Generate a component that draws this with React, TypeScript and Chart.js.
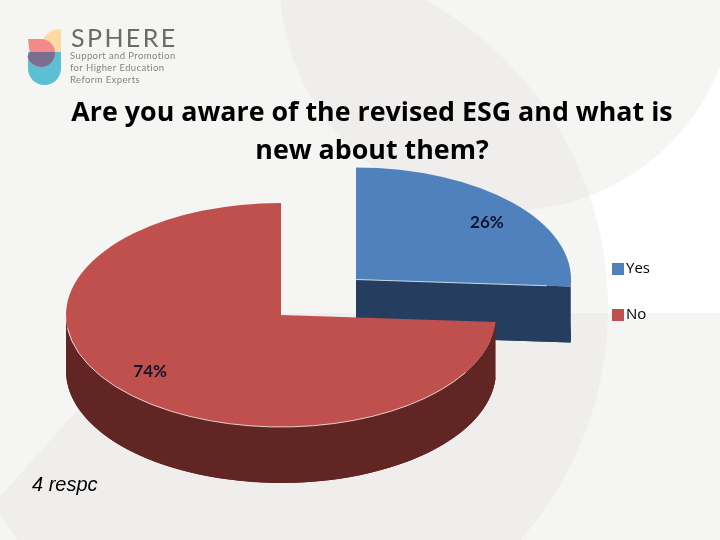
import React, { useEffect, useRef } from "react";
import { Chart, registerables } from "chart.js";

Chart.register(...registerables);

const categories = ["Yes", "No"];
const shares = [26, 74];
const topColors = ["#4f81bd", "#c0504d"];
const wallColors = ["#253e5f", "#612523"];
const titleLines = ["Are you aware of the revised ESG and what is", "new about them?"];
const footnote = "4 respc";
const logoName = "SPHERE";
const logoLines = ["Support and Promotion", "for Higher Education", "Reform Experts"];

// Projection of each slice: screen centre and ellipse radii of the tilted pie.
const sliceCentres = [
  { x: 356, y: 279.5 },
  { x: 281, y: 315 },
];
const RX = 215;
const RY = 112;
const DEPTH = 56;

function legendSquare(color: string) {
  const c = document.createElement("canvas");
  c.width = 12;
  c.height = 12;
  const g = c.getContext("2d") as CanvasRenderingContext2D;
  g.fillStyle = color;
  g.fillRect(0, 0, 12, 12);
  return c;
}

function drawBackdrop(ctx: CanvasRenderingContext2D) {
  const lowerShape = () => {
    ctx.beginPath();
    ctx.moveTo(165, 313);
    ctx.lineTo(720, 313);
    ctx.lineTo(720, 540);
    ctx.lineTo(18, 540);
    ctx.lineTo(-8, 505);
    ctx.lineTo(75, 413);
    ctx.closePath();
  };
  const bigDisc = () => {
    ctx.beginPath();
    ctx.arc(257, 308, 351, 0, Math.PI * 2);
  };
  const topDisc = () => {
    ctx.beginPath();
    ctx.arc(508, -17, 228, 0, Math.PI * 2);
  };
  ctx.save();
  ctx.fillStyle = "#ffffff";
  ctx.fillRect(0, 0, 720, 540);
  ctx.fillStyle = "#f5f5f4";
  ctx.fillRect(0, 0, 300, 540);
  bigDisc();
  ctx.fill();
  topDisc();
  ctx.fill();
  lowerShape();
  ctx.fill();
  bigDisc();
  ctx.clip();
  ctx.fillStyle = "#efeeed";
  topDisc();
  ctx.fill();
  lowerShape();
  ctx.fill();
  ctx.restore();
}

function drawLogo(ctx: CanvasRenderingContext2D) {
  ctx.save();
  ctx.fillStyle = "#fdd9a5";
  ctx.beginPath();
  ctx.moveTo(61, 29);
  ctx.lineTo(61, 52);
  ctx.lineTo(42, 52);
  ctx.lineTo(42, 46);
  ctx.bezierCurveTo(42, 36, 50, 29, 61, 29);
  ctx.fill();
  ctx.fillStyle = "#5cbfd3";
  ctx.beginPath();
  ctx.moveTo(28, 52);
  ctx.lineTo(61, 52);
  ctx.lineTo(61, 68);
  ctx.arc(44.5, 68.5, 16.5, 0, Math.PI);
  ctx.closePath();
  ctx.fill();
  ctx.fillStyle = "#f28b88";
  ctx.beginPath();
  ctx.moveTo(28, 39);
  ctx.lineTo(41, 39);
  ctx.arc(41, 53, 14, -Math.PI / 2, Math.PI * 0.75);
  ctx.closePath();
  ctx.fill();
  ctx.fillStyle = "#7a6f8e";
  ctx.beginPath();
  ctx.moveTo(30, 52);
  ctx.lineTo(55, 52);
  ctx.arc(41, 53, 14, 0, Math.PI * 0.92);
  ctx.closePath();
  ctx.fill();

  ctx.fillStyle = "#6b6b68";
  ctx.textBaseline = "alphabetic";
  ctx.textAlign = "left";
  ctx.font = "400 25px Lato";
  (ctx as any).letterSpacing = "2.4px";
  ctx.fillText(logoName, 71, 47);
  (ctx as any).letterSpacing = "0.4px";
  ctx.font = "400 9.5px Lato";
  ctx.fillStyle = "#85857f";
  logoLines.forEach((line, i) => ctx.fillText(line, 70, 59 + i * 12));
  (ctx as any).letterSpacing = "0px";
  ctx.restore();
}

const pie3d = {
  id: "pie3d",
  beforeDraw(chart: any) {
    // give the title the full width around its centre so it is not squeezed
    chart.titleBlock.left = 42;
    chart.titleBlock.right = 702;
    drawBackdrop(chart.ctx);
    drawLogo(chart.ctx);
  },
  beforeDatasetDraw(chart: any) {
    const ctx: CanvasRenderingContext2D = chart.ctx;
    const arcs = chart.getDatasetMeta(0).data;
    arcs.forEach((el: any, i: number) => {
      const c = sliceCentres[i];
      const original = el.options;
      const paint = (color: string, dy: number) => {
        el.options = {
          backgroundColor: color,
          borderColor: "transparent",
          borderWidth: 0,
          spacing: 0,
          offset: 0,
          borderRadius: 0,
          borderAlign: "center",
          borderJoinStyle: "round",
          circular: true,
        };
        ctx.save();
        ctx.translate(c.x, c.y + dy);
        ctx.scale(RX / el.outerRadius, RY / el.outerRadius);
        ctx.translate(-el.x, -el.y);
        el.draw(ctx);
        ctx.restore();
      };
      // lower face, then the band joining it to the top face
      paint(wallColors[i], DEPTH);
      const a0 = Math.max(el.startAngle, 0);
      const a1 = Math.min(el.endAngle, Math.PI);
      ctx.save();
      ctx.fillStyle = wallColors[i];
      if (a1 > a0) {
        ctx.beginPath();
        ctx.ellipse(c.x, c.y, RX, RY, 0, a0, a1);
        ctx.ellipse(c.x, c.y + DEPTH, RX, RY, 0, a1, a0, true);
        ctx.closePath();
        ctx.fill();
      }
      const ex = RX * Math.cos(el.endAngle);
      const ey = RY * Math.sin(el.endAngle);
      ctx.beginPath();
      ctx.moveTo(c.x, c.y);
      ctx.lineTo(c.x + ex, c.y + ey);
      ctx.lineTo(c.x + ex, c.y + ey + DEPTH);
      ctx.lineTo(c.x, c.y + DEPTH);
      ctx.closePath();
      ctx.fill();
      ctx.restore();
      paint(topColors[i], 0);
      el.options = original;

      // thin highlight where the top face meets the wall
      ctx.save();
      ctx.strokeStyle = "rgba(255,255,255,0.75)";
      ctx.lineWidth = 1;
      ctx.beginPath();
      if (i === 0) {
        ctx.moveTo(c.x, c.y);
        ctx.lineTo(c.x + ex * 0.89, c.y + ey * 0.89);
      } else {
        ctx.ellipse(c.x, c.y, RX, RY, 0, 0.54, Math.PI - 0.12);
      }
      ctx.stroke();
      ctx.restore();
    });
    return false;
  },
  afterDatasetsDraw(chart: any) {
    const ctx: CanvasRenderingContext2D = chart.ctx;
    const arcs = chart.getDatasetMeta(0).data;
    ctx.save();
    ctx.fillStyle = "#10122e";
    ctx.font = "700 17px Lato";
    ctx.textAlign = "center";
    ctx.textBaseline = "middle";
    arcs.forEach((el: any, i: number) => {
      const mid = (el.startAngle + el.endAngle) / 2;
      const c = sliceCentres[i];
      ctx.fillText(
        shares[i] + "%",
        c.x + RX * 0.835 * Math.cos(mid),
        c.y + RY * 0.74 * Math.sin(mid)
      );
    });
    ctx.fillStyle = "#000000";
    ctx.font = "italic 400 20px 'Liberation Sans'";
    ctx.textAlign = "left";
    ctx.textBaseline = "alphabetic";
    ctx.fillText(footnote, 32, 491);
    ctx.restore();
  },
};

export default function App() {
  const ref = useRef<HTMLCanvasElement>(null);
  useEffect(() => {
    const chart = new Chart(ref.current as HTMLCanvasElement, {
      type: "pie",
      data: {
        labels: categories,
        datasets: [{ data: shares, backgroundColor: topColors, borderWidth: 0 }],
      },
      options: {
        responsive: false,
        animation: false,
        layout: { padding: { top: 94, left: 84, right: 60, bottom: 51 } },
        plugins: {
          tooltip: { enabled: false },
          title: {
            display: true,
            text: titleLines,
            color: "#000000",
            padding: 0,
            font: { family: "'Open Sans'", size: 26.8, weight: "700", lineHeight: 1.418 },
          },
          legend: {
            display: true,
            position: "right",
            labels: {
              color: "#000000",
              usePointStyle: true,
              pointStyleWidth: 1,
              boxWidth: 1,
              boxHeight: 12,
              padding: 31,
              font: { family: "'Open Sans'", size: 15 },
              generateLabels: () =>
                categories.map((text, index) => ({
                  text,
                  index,
                  fontColor: "#000000",
                  fillStyle: topColors[index],
                  strokeStyle: topColors[index],
                  lineWidth: 0,
                  hidden: false,
                  pointStyle: legendSquare(topColors[index]),
                })),
            },
          },
        },
      },
      plugins: [pie3d],
    } as any);
    return () => chart.destroy();
  }, []);
  return (
    <div style={{ position: "absolute", left: 0, top: 0, width: 720, height: 540 }}>
      <canvas ref={ref} width={720} height={540} style={{ display: "block" }} />
    </div>
  );
}
